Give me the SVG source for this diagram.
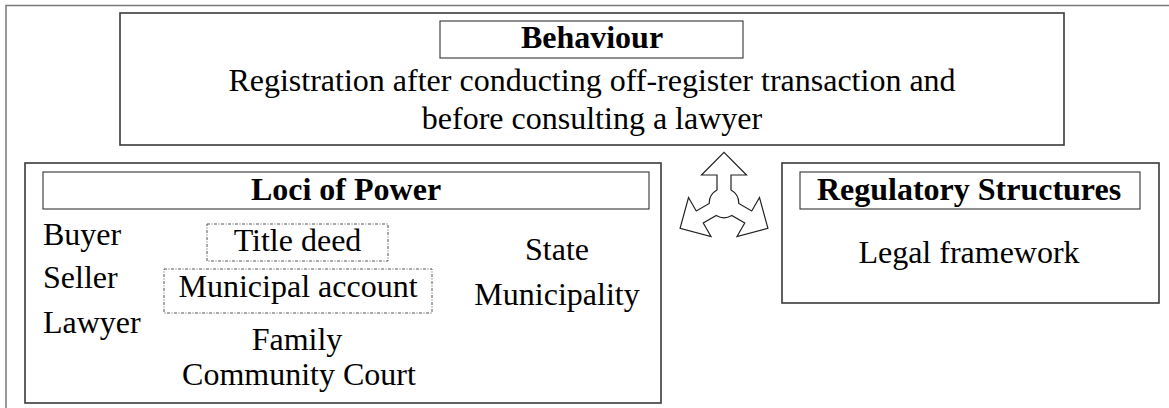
<svg xmlns="http://www.w3.org/2000/svg" width="1169" height="408" viewBox="0 0 1169 408">
<style>
.frame{fill:none;stroke:#7a7a7a;stroke-width:1.5}
.box{fill:#fff;stroke:#3a3a3a;stroke-width:1.6}
.tbox{fill:#fff;stroke:#333;stroke-width:1.1}
.dbox{fill:none;stroke:#555;stroke-width:1;stroke-dasharray:3 1.5 1 1.5}
text{font-family:"Liberation Serif","Times New Roman",serif;font-size:32px;fill:#000}
.b{font-weight:bold}
.m{text-anchor:middle}
.arrow{fill:#fff;stroke:#222;stroke-width:1.2;stroke-linejoin:miter}
</style>
<rect width="1169" height="408" fill="#fff"/>
<path class="frame" d="M6,408 V5.5 H1169"/>
<g id="behaviour">
<rect class="box" x="120" y="13" width="944" height="132"/>
<rect class="tbox" x="440" y="21" width="303" height="37"/>
<text class="b m" x="592" y="48">Behaviour</text>
<text class="m" x="592" y="91">Registration after conducting off-register transaction and</text>
<text class="m" x="592" y="129">before consulting a lawyer</text>
</g>
<g id="loci">
<rect class="box" x="25" y="163" width="636" height="240"/>
<rect class="tbox" x="43" y="172" width="606" height="37"/>
<text class="b m" x="346" y="200">Loci of Power</text>
<text x="43" y="245">Buyer</text>
<text x="43" y="288">Seller</text>
<text x="43" y="333">Lawyer</text>
<rect class="dbox" x="207" y="224" width="181" height="37"/>
<text class="m" x="297.5" y="251">Title deed</text>
<rect class="dbox" x="164" y="269" width="268" height="44"/>
<text class="m" x="298" y="297">Municipal account</text>
<text class="m" x="297" y="350">Family</text>
<text class="m" x="299" y="385">Community Court</text>
<text class="m" x="557" y="260">State</text>
<text class="m" x="557" y="305">Municipality</text>
</g>
<g id="regulatory">
<rect class="box" x="782" y="163" width="377" height="140"/>
<rect class="tbox" x="800" y="172" width="340" height="37"/>
<text class="b m" x="969" y="200">Regulatory Structures</text>
<text class="m" x="969" y="263">Legal framework</text>
</g>
<g id="connectors">
<path class="arrow" transform="translate(724,203)" d="M-7,-13 V-28 H-22.5 L0,-50.7 L22.5,-28 H7 V-13 A15,15 0 0 1 14.76,0.44 L27.75,7.94 L35.5,-5.49 L43.91,25.35 L13,33.49 L20.75,20.06 L7.76,12.56 A15,15 0 0 1 -7.76,12.56 L-20.75,20.06 L-13,33.49 L-43.91,25.35 L-35.5,-5.49 L-27.75,7.94 L-14.76,0.44 A15,15 0 0 1 -7,-13 Z"/>
</g>
</svg>
